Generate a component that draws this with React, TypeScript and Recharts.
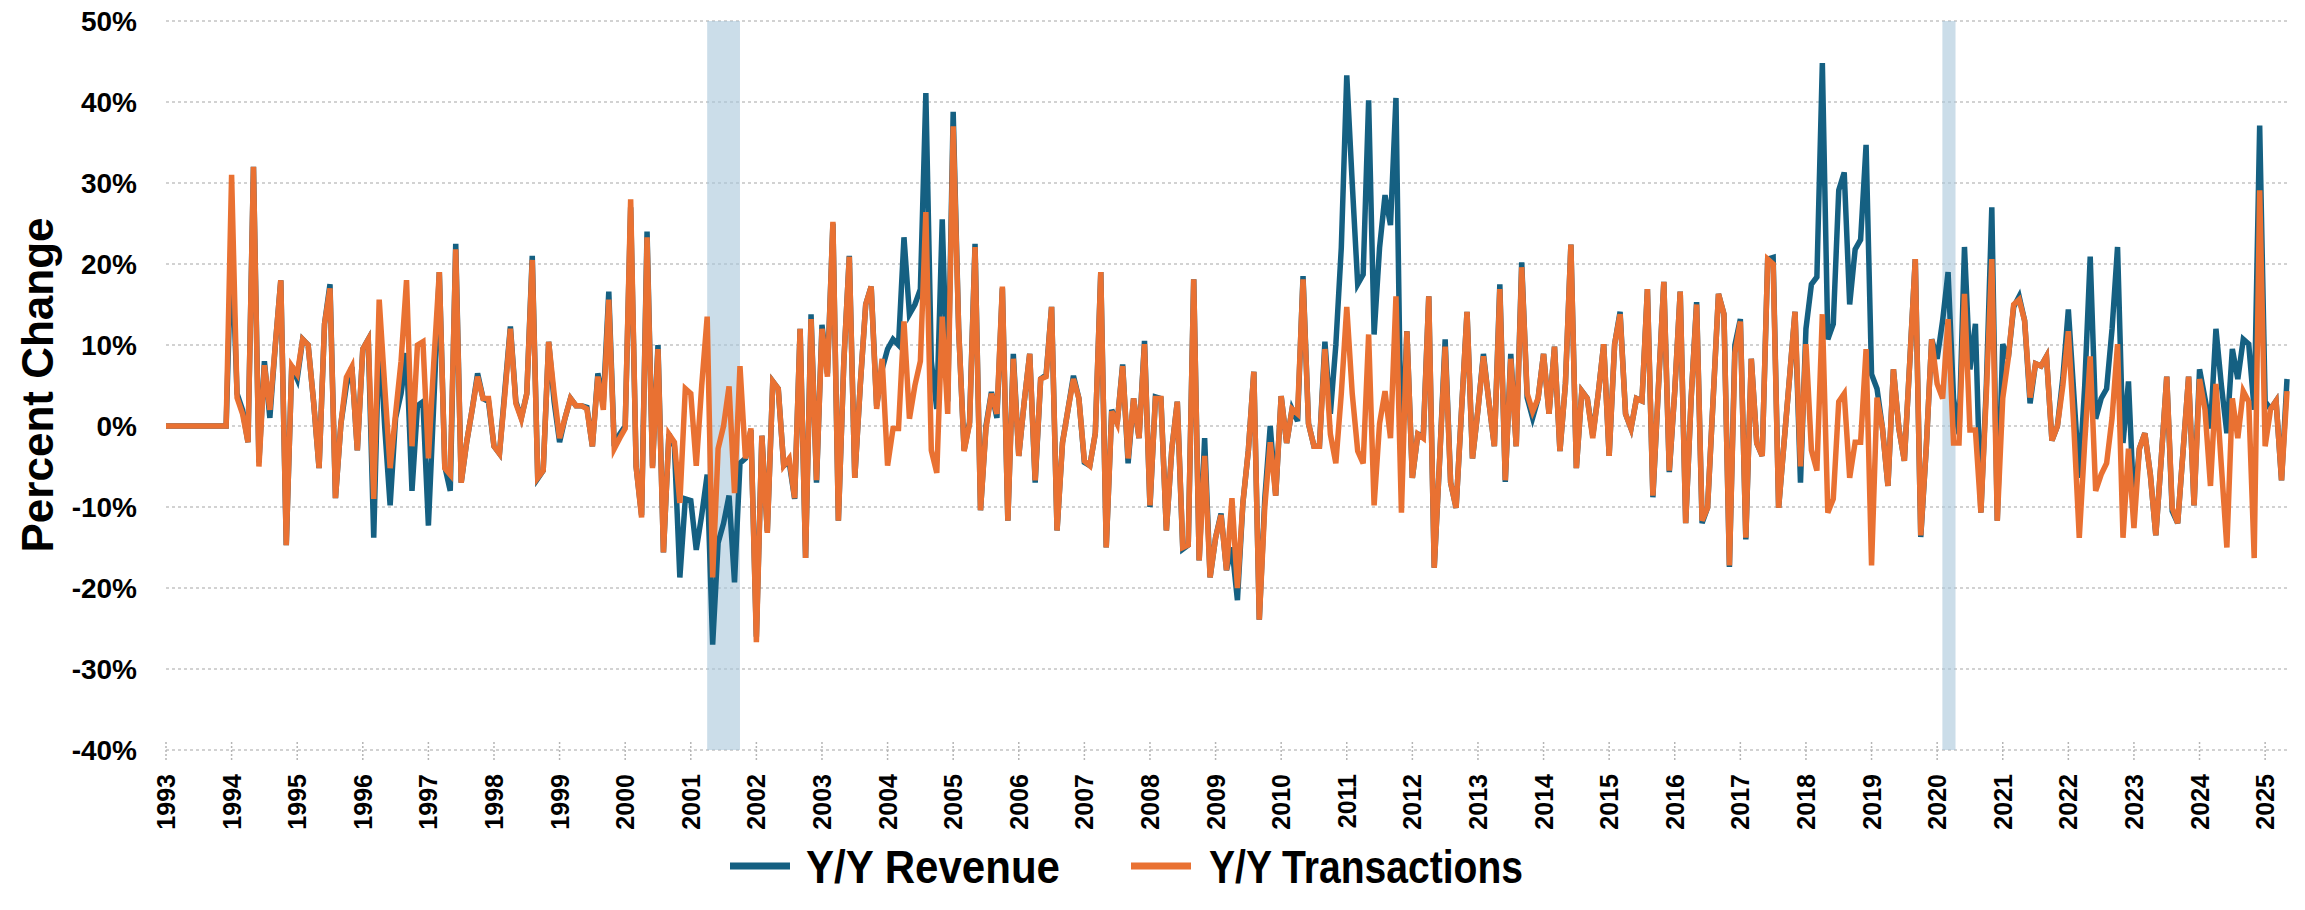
import { LineChart, Line, XAxis, YAxis, CartesianGrid, ReferenceArea } from "recharts";

// monthly series, Jan 1993 .. May 2025, one row per year
const startYear = 1993;

const revenue = [
  0, 0, 0, 0, 0, 0, 0, 0, 0, 0, 0, 0,
  23, 4, 2, -2, 32, -4.5, 8, 1, 10, 18, -14.7, 7.4,
  5.8, 10.7, 10, 3, -5.2, 12.6, 17.5, -8.9, 0.3, 5, 7.3, -3,
  9.5, 10.7, -13.8, 12, 0, -9.8, 1, 4, 9, -8, 2.5, 3,
  -12.3, 3, 19, -5, -8, 22.5, -7, -2, 2, 6.5, 3.4, 3,
  -2.5, -3.4, 4.5, 12.3, 3, 1, 4, 21, -6.5, -5.5, 10.4, 3,
  -2, 1, 3.4, 2.5, 2.5, 2.3, -2.5, 6.5, 3, 16.6, -2.5, -1,
  0, 27, -5, -11, 24, -5, 10, -15.6, -1, -2.5, -18.7, -9,
  -9.2, -15.3, -11, -6, -27, -14.4, -12, -8.6, -19.3, -4.6, -4, -0.5,
  -26, -1.2, -13, 5.5, 4.6, -4.9, -4.5, -9, 12, -16.3, 13.8, -7,
  12.5, 6.5, 25, -11.7, 8, 21, -6.4, 5, 15, 17.2, 2.5, 7,
  9.5, 10.7, 10, 23.3, 13.8, 15, 16.9, 41.1, 8, 2.1, 25.5, 3,
  38.8, 12, -3, 0.5, 22.5, -10.4, 0, 4.2, 1, 17, -11.7, 8.9,
  -3.7, 3, 8.9, -7, 5.8, 6.3, 14.7, -12.9, -2, 2, 6.2, 3.4,
  -4.5, -4.9, -0.9, 19, -15, 2, 0.3, 7.6, -4.6, 3.4, -1.5, 10.5,
  -10, 3.6, 3.4, -12.9, -2.8, 3, -15.2, -14.7, 18.1, -16.6, -1.5, -18.7,
  -13.8, -10.8, -17.8, -15, -21.5, -9.5, -3, 6.7, -23.9, -9, 0, -8.6,
  3.7, -2.1, 2.1, 0.6, 18.5, 0.3, -2.5, -2.5, 10.4, 1.5, 10, 22,
  43.3, 30, 17.5, 18.7, 40.2, 11.3, 22, 28.5, 24.8, 40.5, -5, 11.7,
  -6.4, -1, -1.2, 16, -17.5, -4, 10.7, -7, -10.1, 2, 14.1, -4,
  2, 8.9, 3, -2.5, 17.5, -6.9, 8.9, -2.5, 20.2, 3.5, 1, 3.4,
  8.9, 1.5, 9.8, -3.1, 5.2, 22.4, -5.2, 4.3, 3.4, -1.2, 4, 10.1,
  -3.7, 10.1, 14.1, 1.5, -0.3, 3.4, 3.1, 16.9, -8.8, 4.6, 17.8, -5.7,
  4.3, 16.6, -12, 3.4, 15.3, -12, -10.1, 3, 16.3, 13.8, -17.4, 10,
  13.2, -14, 8.3, -2.1, -3.7, 20.6, 20.8, -10.1, -2, 6, 14.1, -7,
  12, 17.5, 18.4, 44.8, 10.7, 12.6, 29.1, 31.3, 15, 21.8, 23, 34.7,
  6.4, 4.6, -0.3, -7.4, 7, -0.3, -4.3, 8, 20.6, -13.7, -2.8, 10.7,
  8.3, 13, 19, 3.4, -1, 22.1, 7, 12.6, -10.7, 5, 27, -11.7,
  10.1, 8.3, 14.7, 16, 13, 2.8, 7.7, 7.4, 8.6, -1.8, 0, 6,
  14.4, 4, -6.4, 5, 20.9, 0.9, 3.4, 4.6, 12, 22.1, -2.1, 5.5,
  -10, -2.8, -0.9, -6, -13.5, -4, 6.1, -10.5, -12, -3, 6.1, -9.8,
  7, 3.4, -0.3, 12, 5, -0.9, 9.5, 5.8, 10.7, 10.1, 2, 37.1,
  3, 2.1, 3.1, -6.7, 5.8,
];

const transactions = [
  0, 0, 0, 0, 0, 0, 0, 0, 0, 0, 0, 0,
  31, 3.5, 1.5, -2, 32, -5, 7.5, 2, 10, 18, -14.7, 7.4,
  6.4, 10.7, 10, 3, -5.2, 12.6, 17, -8.9, 0.3, 6, 7.3, -3,
  9.5, 10.7, -9, 15.6, 5, -5.2, 1.5, 8, 18, -2.5, 10, 10.4,
  -4, 8, 19, -5.2, -6, 21.8, -7, -2, 2, 6.1, 3.4, 3.4,
  -2.5, -3.4, 4, 12, 2.8, 0.9, 4, 20.5, -6.4, -5.5, 10.4, 4,
  -1.5, 1, 3.4, 2.5, 2.5, 2.1, -2.5, 6.1, 2, 15.6, -2.8, -1.5,
  -0.3, 28, -5, -11.3, 23.3, -5.2, 9.5, -15.6, -1, -2, -9.5, 4.6,
  4, -4.9, 5, 13.5, -18.7, -2.8, 0, 4.9, -8.3, 7.4, -4, -0.3,
  -26.7, -1.2, -13.2, 5.5, 4.6, -4.9, -4, -8.9, 12, -16.3, 13.2, -6.7,
  12, 6.1, 25.2, -11.7, 8, 20.9, -6.4, 5, 15, 17.2, 2.1, 8.3,
  -4.9, -0.3, -0.3, 12.9, 0.9, 5, 8, 26.4, -3, -5.8, 13.5, 1.5,
  37, 12, -3.1, 0.3, 22.1, -10.4, -0.3, 4, 1.5, 17.2, -11.7, 8.3,
  -3.7, 3, 8.9, -6.7, 5.8, 6.1, 14.7, -12.9, -2.1, 2, 5.8, 3.4,
  -4.3, -4.9, -0.9, 19, -15, 1.8, 0.3, 7.4, -4, 3.4, -1.5, 10.1,
  -9.8, 3.4, 3.4, -12.9, -2.8, 3, -15, -14.7, 18.1, -16.6, -3.7, -18.7,
  -13.8, -11, -17.8, -8.9, -20, -9.5, -3, 6.7, -23.9, -10, -2, -8.6,
  3.7, -2.1, 2.1, 1.5, 18.1, 0.3, -2.5, -2.5, 9.5, -1, -4.6, 4,
  14.7, 4, -3.1, -4.6, 11.3, -9.8, 0.3, 4.3, -1.5, 16, -10.7, 11.7,
  -6.4, -1, -1.5, 16, -17.5, -4, 9.8, -7, -10.1, 2, 14.1, -4,
  2, 8.6, 3, -2.5, 16.9, -6.7, 8.3, -2.5, 19.6, 4, 1.8, 3.4,
  8.9, 1.5, 9.8, -3.1, 5.2, 22.4, -5.2, 4.3, 3.4, -1.5, 4, 10.1,
  -3.7, 10.1, 13.8, 1.5, -0.3, 3.4, 3.1, 16.9, -8.6, 4.6, 17.8, -5.5,
  4.3, 16.6, -12, 3.4, 15, -11.7, -10.1, 3, 16.3, 13.8, -17.2, 9,
  12.9, -13.8, 8.3, -2.1, -3.7, 20.6, 20, -10.1, -2, 6, 14.1, -5,
  10.1, -3, -5.5, 13.8, -10.7, -9, 3, 4, -6.4, -2, -2, 9.5,
  -17.2, 3.5, -0.3, -7.4, 7, -0.3, -4.3, 8, 20.6, -13.5, -2.8, 10.7,
  5.2, 3.4, 13.2, -2.1, -2.1, 16.3, -0.5, -0.5, -10.7, 4, 20.6, -11.7,
  3.4, 8.3, 15, 15.6, 13, 3.5, 7.7, 7.4, 8.6, -1.8, 0, 5,
  11.7, 0, -13.8, -2, 8.6, -8, -6, -4.6, 1, 10.1, -13.8, -2.8,
  -12.6, -2.8, -0.9, -6, -13.5, -4, 6.1, -10.1, -12, -3, 6.1, -9.8,
  5.8, 2, -7.4, 5.2, -5, -15, 3.4, -1.5, 4.3, 3, -16.3, 29.1,
  -2.5, 2.1, 3.1, -6.7, 4.3,
];

const yearTicks = [
  1993, 1994, 1995, 1996, 1997, 1998, 1999, 2000, 2001, 2002, 2003,
  2004, 2005, 2006, 2007, 2008, 2009, 2010, 2011, 2012, 2013, 2014,
  2015, 2016, 2017, 2018, 2019, 2020, 2021, 2022, 2023, 2024, 2025,
];

const pctTicks = [-40, -30, -20, -10, 0, 10, 20, 30, 40, 50];

// shaded recessions (fractional years)
const recessions = [
  { from: 2001.25, to: 2001.75 },
  { from: 2020.08, to: 2020.28 },
];

const seriesNames = ["Y/Y Revenue", "Y/Y Transactions"];

const BLUE = "#156082";
const ORANGE = "#E97132";
const FONT = "'Liberation Sans', Arial, sans-serif";

const data = revenue.map((r, i) => ({
  t: startYear + i / 12,
  revenue: r,
  transactions: transactions[i],
}));

const YearTick = (props: any) => {
  const { x, y, payload } = props;
  return (
    <g>
      <line x1={x} x2={x} y1={y - 32} y2={y - 14} stroke="#b5b5b5" strokeWidth={1.5} strokeDasharray="2 2" />
      <text
        x={x}
        y={y}
        transform={`rotate(-90 ${x} ${y})`}
        textAnchor="end"
        dominantBaseline="central"
        fontFamily={FONT}
        fontSize={25}
        fontWeight={700}
        fill="#000"
      >
        {payload.value}
      </text>
    </g>
  );
};

const AxisTitle = () => (
  <text
    x={37}
    y={385}
    transform="rotate(-90 37 385)"
    textAnchor="middle"
    dominantBaseline="central"
    fontFamily={FONT}
    fontSize={44}
    fontWeight={700}
    fill="#000"
  >
    Percent Change
  </text>
);

// legend drawn as an overlay: marker line + squeezed bold label
const legendLayout = [
  { color: BLUE, lineX: 730, textX: 806, textW: 254 },
  { color: ORANGE, lineX: 1131, textX: 1209, textW: 314 },
];

export default function App() {
  return (
    <div style={{ position: "absolute", left: 0, top: 0, width: 2305, height: 910, background: "#fff" }}>
      <LineChart width={2305} height={910} data={data} margin={{ top: 21, right: 18, bottom: 70, left: 0 }}>
        <CartesianGrid vertical={false} stroke="#c4c4c4" strokeWidth={1.5} strokeDasharray="3 3" />
        {recessions.map((r) => (
          <ReferenceArea key={r.from} x1={r.from} x2={r.to} y1={-40} y2={50} fill="#a9c6da" fillOpacity={0.6} stroke="none" />
        ))}
        <XAxis
          type="number"
          dataKey="t"
          domain={["dataMin", "dataMax"]}
          ticks={yearTicks}
          interval={0}
          height={90}
          tick={<YearTick />}
          tickLine={false}
          axisLine={false}
          tickSize={0}
          tickMargin={24}
        />
        <YAxis
          domain={[-40, 50]}
          ticks={pctTicks}
          interval={0}
          width={166}
          tickFormatter={(v) => `${v}%`}
          tick={{ fill: "#000", fontSize: 28, fontWeight: 700, fontFamily: FONT }}
          tickLine={false}
          axisLine={false}
          tickSize={0}
          tickMargin={29}
          label={<AxisTitle />}
        />
        <Line
          type="linear"
          dataKey="revenue"
          name={seriesNames[0]}
          stroke={BLUE}
          strokeWidth={5.5}
          dot={false}
          isAnimationActive={false}
        />
        <Line
          type="linear"
          dataKey="transactions"
          name={seriesNames[1]}
          stroke={ORANGE}
          strokeWidth={5.5}
          dot={false}
          isAnimationActive={false}
        />
      </LineChart>
      <svg width={2305} height={910} style={{ position: "absolute", left: 0, top: 0, pointerEvents: "none" }}>
        {legendLayout.map((l, i) => (
          <g key={seriesNames[i]}>
            <line x1={l.lineX} x2={l.lineX + 60} y1={866} y2={866} stroke={l.color} strokeWidth={7} />
            <text
              x={l.textX}
              y={866}
              dominantBaseline="central"
              textLength={l.textW}
              lengthAdjust="spacingAndGlyphs"
              fontFamily={FONT}
              fontSize={47}
              fontWeight={700}
              fill="#000"
            >
              {seriesNames[i]}
            </text>
          </g>
        ))}
      </svg>
    </div>
  );
}
